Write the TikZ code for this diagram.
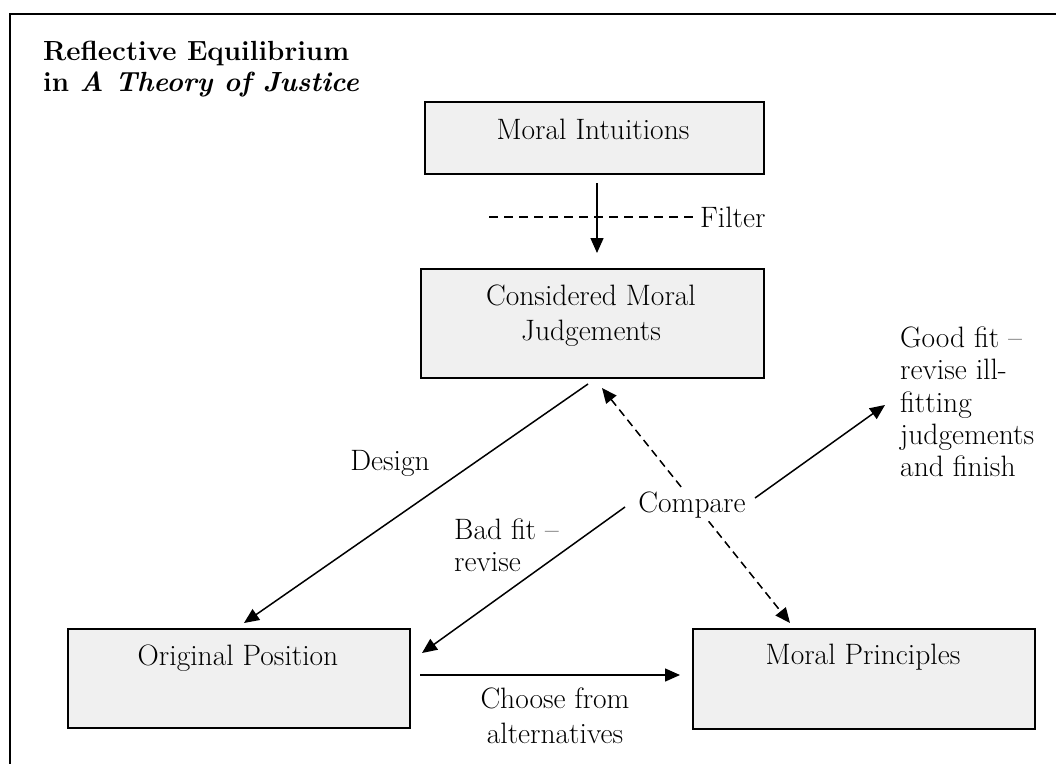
\documentclass[tikz,border=0pt]{standalone}
\usetikzlibrary{arrows.meta}
\definecolor{boxgray}{RGB}{240,240,240}
\begin{document}
\begin{tikzpicture}[x=1pt,y=-1pt,
  box/.style={draw=black, line width=1.8pt, fill=boxgray, anchor=north west, inner sep=0pt},
  lbl/.style={font=\fontsize{29.5}{35}\selectfont, align=center, inner sep=0pt},
  lbll/.style={font=\fontsize{29.5}{32.3}\selectfont, align=left, inner sep=0pt},
  ttl/.style={font=\fontsize{27.7}{31}\selectfont\bfseries, align=left, inner sep=0pt},
  arr/.style={line width=1.5pt, -{Triangle[length=15pt,width=13pt]}},
  darr/.style={line width=1.5pt, dash pattern=on 8pt off 5pt, {Triangle[length=15pt,width=13pt]}-{Triangle[length=15pt,width=13pt]}},
  fline/.style={line width=1.3pt, dash pattern=on 9pt off 6pt}
]
\useasboundingbox (0,0) rectangle (1056,763);
\clip (0,0) rectangle (1056,763);
% outer frame (only top and left sides visible)
\draw[line width=2pt] (10,800) -- (10,14) -- (1100,14);

% title
\node[ttl, anchor=north west] (title) at (43,41) {Reflective Equilibrium\\in \textit{A Theory of Justice}};

% boxes
\node[box, minimum width=339pt, minimum height=72pt] (mi) at (424,101) {};
\node[box, minimum width=343pt, minimum height=109pt] (cmj) at (420,268) {};
\node[box, minimum width=342pt, minimum height=99pt] (op) at (67,628) {};
\node[box, minimum width=342pt, minimum height=100pt] (mp) at (692,628) {};

% box labels
\node[lbl] (mit) at (593,129) {Moral Intuitions};
\node[lbl] (cmjt) at (591,316) {Considered Moral\\Judgements};
\node[lbl] (opt) at (238,658) {Original Position};
\node[lbl] (mpt) at (863,657) {Moral Principles};

% connectors drawn first so labels can mask them
\coordinate (f1) at (597,183);
\coordinate (f2) at (597,253);
\coordinate (fl1) at (489,217);
\coordinate (d1) at (588,384);
\coordinate (d2) at (244,623);
\coordinate (c1) at (602,388);
\coordinate (c2) at (790,623);
\coordinate (g1) at (755,498);
\coordinate (g2) at (885,405);
\coordinate (b1) at (625,507);
\coordinate (b2) at (422,653);
\coordinate (ch1) at (420,675);
\coordinate (ch2) at (680,675);

\draw[arr] (f1) -- (f2);
\draw[arr] (d1) -- (d2);
\draw[darr] (c1) -- (c2);
\draw[arr] (g1) -- (g2);
\draw[arr] (b1) -- (b2);
\draw[arr] (ch1) -- (ch2);

% connector labels
\node[lbl, anchor=west] (filter) at (700,217) {Filter};
\draw[fline] (fl1) -- ([xshift=-7pt]filter.west);
\node[lbl] (design) at (390,463) {Design};
\node[lbl, fill=white, inner xsep=4pt, inner ysep=3pt] (compare) at (692,505) {Compare};
\node[lbll, anchor=west] (bad) at (454,545) {Bad fit --\\revise};
\node[lbll, anchor=west] (good) at (900,402) {Good fit --\\revise ill-\\fitting\\judgements\\and finish};
\node[lbl] (choose) at (555,716) {Choose from\\alternatives};
\end{tikzpicture}
\end{document}
